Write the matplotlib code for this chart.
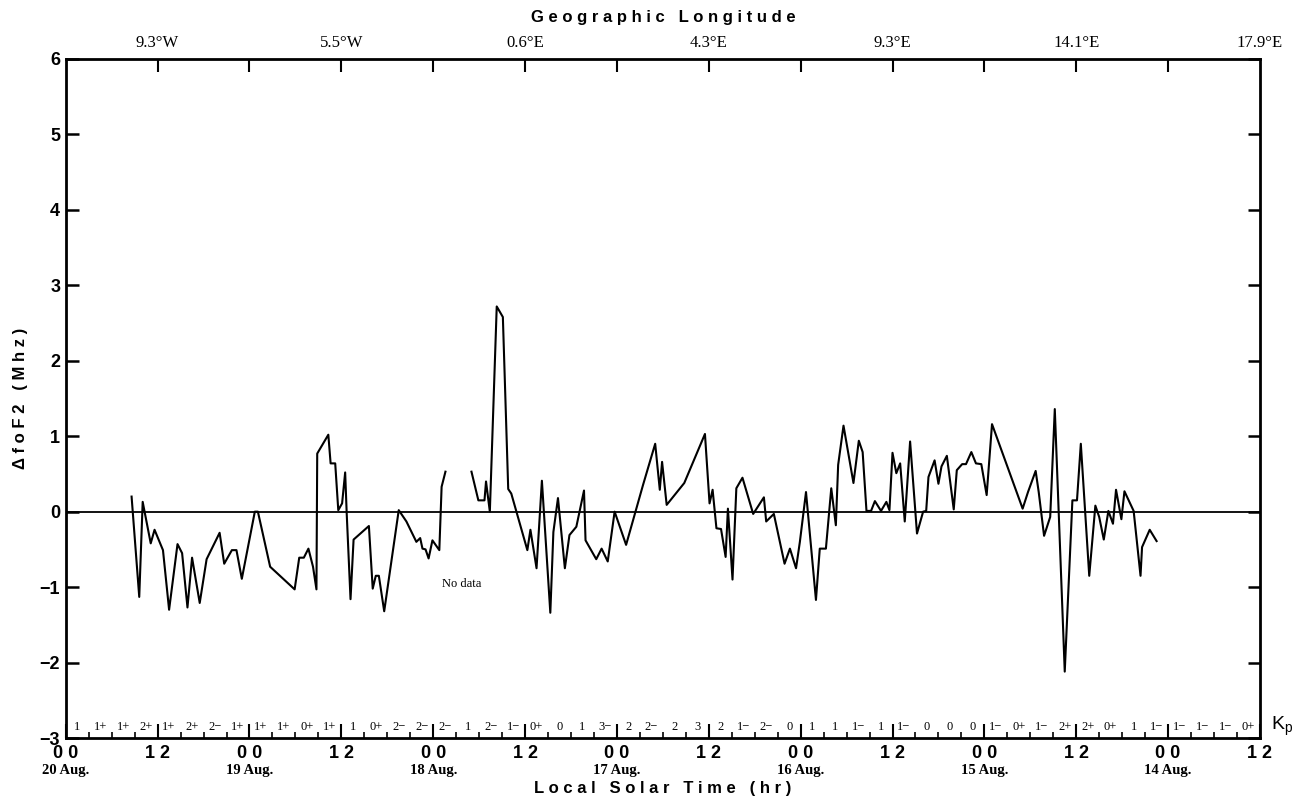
import numpy as np
import matplotlib
matplotlib.use("Agg")
import matplotlib.pyplot as plt
from matplotlib.ticker import FixedLocator, MultipleLocator

# ---------------- data ----------------
hours_a = [8.6, 9.6, 10.05, 11.1, 11.6, 12.7, 13.5, 14.6, 15.2, 15.9, 16.5, 17.5, 18.4,
           20.1, 20.7, 21.7, 22.3, 23.0, 24.7, 25.1, 26.7, 29.9, 30.5, 31.1, 31.7, 32.3,
           32.75, 32.85, 34.3, 34.6, 35.2, 35.6, 36.1, 36.5, 36.7, 37.2, 37.6, 39.6, 40.1,
           40.5, 40.9, 41.6, 43.5, 44.5, 45.8, 46.3, 46.6, 47.0, 47.4, 47.9, 48.8, 49.1, 49.6]
dfof2_a = [0.20, -1.13, 0.13, -0.42, -0.24, -0.51, -1.30, -0.43, -0.55, -1.27, -0.61, -1.21, -0.63,
           -0.28, -0.69, -0.51, -0.51, -0.89, 0.0, 0.0, -0.73, -1.03, -0.61, -0.61, -0.49, -0.73,
           -1.03, 0.77, 1.02, 0.64, 0.64, 0.02, 0.11, 0.52, -0.02, -1.16, -0.37, -0.19, -1.02,
           -0.85, -0.85, -1.32, 0.02, -0.13, -0.40, -0.35, -0.49, -0.50, -0.62, -0.38, -0.51, 0.33, 0.53]

hours_b = [53.0, 53.9, 54.7, 54.9, 55.4, 56.3, 57.1, 57.8, 58.2, 60.3, 60.7, 61.5, 62.2, 63.3,
           63.7, 64.3, 65.2, 65.8, 66.7, 67.7, 67.9, 69.3, 70.0, 70.8, 71.7, 73.2, 75.4, 77.0,
           77.6, 77.9, 78.5, 80.8, 83.5, 84.1, 84.5, 85.0, 85.6, 86.2, 86.5, 87.1, 87.6, 88.4,
           89.8, 91.2, 91.5, 92.5, 93.9, 94.6, 95.4, 95.9, 96.7, 98.0, 98.5, 99.3, 100.0, 100.6,
           100.9, 101.6, 102.9, 103.6, 104.1, 104.6, 105.2, 105.7, 106.5, 107.2, 107.6, 108.0,
           108.5, 109.0, 109.6, 110.3, 111.2, 112.0, 112.4, 112.7, 113.5, 114.0, 114.4, 115.1,
           116.0, 116.4, 117.1, 117.6, 118.3, 118.9, 119.6, 120.3, 121.0, 125.0, 125.7, 126.7,
           127.1, 127.8, 128.6, 129.2, 130.5, 131.5, 132.1, 132.6, 133.7, 134.5, 135.0, 135.6,
           136.2, 136.8, 137.2, 137.9, 138.3, 139.5, 140.4, 140.6, 141.6, 142.5]
dfof2_b = [0.53, 0.15, 0.15, 0.40, 0.0, 2.72, 2.58, 0.30, 0.24, -0.51, -0.24, -0.75, 0.41, -1.34,
           -0.27, 0.18, -0.75, -0.31, -0.20, 0.28, -0.38, -0.63, -0.49, -0.66, 0.0, -0.44, 0.35, 0.90,
           0.29, 0.66, 0.09, 0.38, 1.03, 0.11, 0.29, -0.22, -0.23, -0.60, 0.04, -0.90, 0.31, 0.45,
           -0.03, 0.19, -0.13, -0.03, -0.69, -0.49, -0.75, -0.40, 0.26, -1.17, -0.49, -0.49, 0.31, -0.18,
           0.62, 1.14, 0.38, 0.94, 0.79, 0.01, 0.01, 0.14, 0.01, 0.13, 0.02, 0.78,
           0.51, 0.64, -0.13, 0.93, -0.29, 0.0, 0.01, 0.46, 0.68, 0.37, 0.60, 0.74,
           0.03, 0.55, 0.63, 0.63, 0.79, 0.64, 0.63, 0.22, 1.16, 0.04, 0.26, 0.54,
           0.26, -0.32, -0.07, 1.36, -2.12, 0.15, 0.15, 0.90, -0.85, 0.08, -0.07, -0.37,
           0.01, -0.16, 0.29, -0.10, 0.27, 0.01, -0.85, -0.47, -0.24, -0.39]

kp_values = ["1", "1+", "1+", "2+", "1+", "2+", "2\u2212", "1+", "1+", "1+", "0+", "1+",
             "1", "0+", "2\u2212", "2\u2212", "2\u2212", "1", "2\u2212", "1\u2212", "0+", "0", "1", "3\u2212",
             "2", "2\u2212", "2", "3", "2", "1\u2212", "2\u2212", "0", "1", "1", "1\u2212", "1",
             "1\u2212", "0", "0", "0", "1\u2212", "0+", "1\u2212", "2+", "2+", "0+", "1", "1\u2212",
             "1\u2212", "1\u2212", "1\u2212", "0+"]

time_tick_labels = ["0 0", "1 2"] * 7
date_labels = ["20 Aug.", "19 Aug.", "18 Aug.", "17 Aug.", "16 Aug.", "15 Aug.", "14 Aug."]
longitude_labels = ["9.3°W", "5.5°W", "0.6°E", "4.3°E", "9.3°E", "14.1°E", "17.9°E"]

# ---------------- figure ----------------
fig = plt.figure(figsize=(13.02, 8.07), dpi=100)
ax = fig.add_axes([0.0505, 0.0855, 0.9172, 0.8414])

sans = "Liberation Sans"
serif = "Liberation Serif"

ax.plot(hours_a, dfof2_a, color="black", lw=1.5)
ax.plot(hours_b, dfof2_b, color="black", lw=1.5)
ax.axhline(0, color="black", lw=1.3)

xmax = 12 * (len(time_tick_labels) - 1)
ax.set_xlim(0, xmax)
ax.set_ylim(-3, 6)

for s in ax.spines.values():
    s.set_linewidth(2.0)

# y axis
ax.yaxis.set_major_locator(MultipleLocator(1))
ax.tick_params(axis="y", which="major", direction="in", length=9, width=1.8,
               left=True, right=True, labelsize=13, pad=4)
for lab in ax.get_yticklabels():
    lab.set_fontfamily(sans)
    lab.set_fontweight("bold")

# bottom x axis
major_x = np.arange(0, xmax + 1, 12)
ax.xaxis.set_major_locator(FixedLocator(major_x))
ax.xaxis.set_minor_locator(MultipleLocator(3))
ax.set_xticklabels(time_tick_labels, fontfamily=sans, fontsize=13, fontweight="bold")
ax.tick_params(axis="x", which="major", direction="in", length=10, width=1.5, pad=5, top=False)
ax.tick_params(axis="x", which="minor", direction="in", length=4, width=1.2, top=False)

# dates under 00 ticks
for i, d in enumerate(date_labels):
    ax.annotate(d, xy=(24 * i, 0), xycoords=("data", "axes fraction"),
                xytext=(0, -19), textcoords="offset points", ha="center", va="top",
                fontfamily=serif, fontsize=10.5, fontweight="bold")

# Kp values
for i, k in enumerate(kp_values):
    ax.text(3 * i + 1.5, -2.86, k, ha="center", va="center", fontfamily=serif, fontsize=9)
ax.annotate("K$_\\mathregular{p}$", xy=(1, 0), xycoords="axes fraction", xytext=(8, 0),
            textcoords="offset points", ha="left", va="bottom", fontfamily=sans, fontsize=14)

# top axis (longitude)
ax2 = ax.twiny()
ax2.set_xlim(ax.get_xlim())
ax2.xaxis.set_major_locator(FixedLocator(major_x[1:-1]))
ax2.tick_params(axis="x", which="major", direction="in", length=9, width=1.5, pad=6)
ax2.set_xticklabels([])
for s in ax2.spines.values():
    s.set_visible(False)
for i, lon in enumerate(longitude_labels):
    ax.annotate(lon, xy=(12 + 24 * i, 1), xycoords=("data", "axes fraction"),
                xytext=(0, 6), textcoords="offset points", ha="center", va="bottom",
                fontfamily=serif, fontsize=12)

ax.text(0.5, 1.05, "G e o g r a p h i c   L o n g i t u d e", transform=ax.transAxes,
        ha="center", va="bottom", fontfamily=sans, fontsize=12, fontweight="bold")
ax.text(0.5, -0.064, "L o c a l   S o l a r   T i m e   ( h r )", transform=ax.transAxes,
        ha="center", va="top", fontfamily=sans, fontsize=12, fontweight="bold")
ax.text(-0.038, 0.5, "\u0394 f o F 2   ( M h z )", transform=ax.transAxes, rotation=90,
        ha="center", va="center", fontfamily=sans, fontsize=12, fontweight="bold")

ax.text(51.7, -0.96, "No data", ha="center", va="center", fontfamily=serif, fontsize=9)

fig.savefig("out.png", dpi=100)
